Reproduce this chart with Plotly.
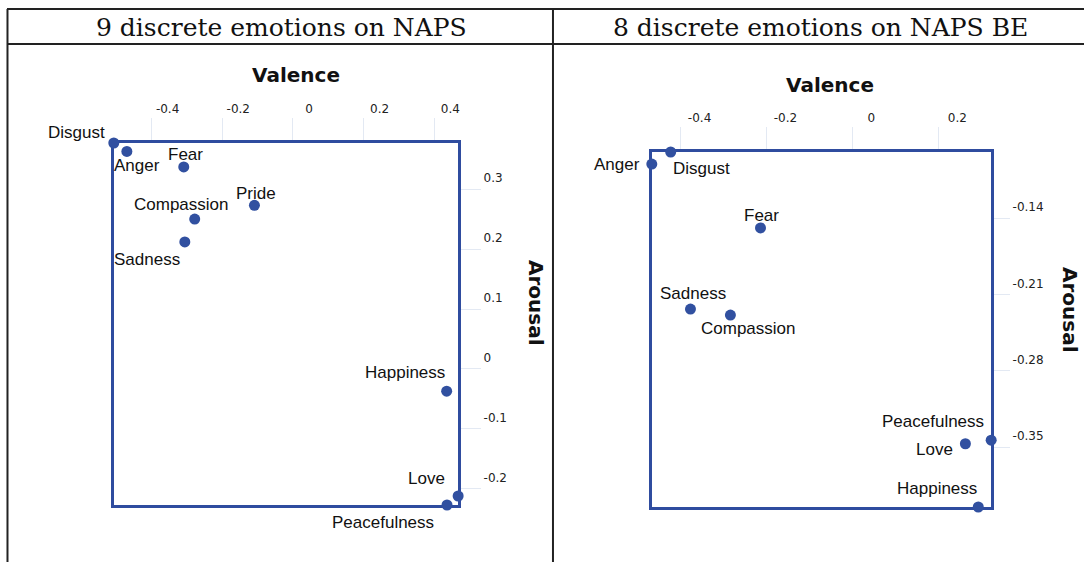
import plotly.graph_objects as go

# ---------------- data ----------------
naps_emotions = ["Disgust", "Anger", "Fear", "Pride", "Compassion", "Sadness",
                 "Happiness", "Love", "Peacefulness"]
naps_valence = [-0.507, -0.470, -0.309, -0.109, -0.278, -0.306, 0.435, 0.4675, 0.436]
naps_arousal = [0.377, 0.363, 0.337, 0.273, 0.250, 0.212, -0.037, -0.212, -0.227]

be_emotions = ["Anger", "Disgust", "Fear", "Sadness", "Compassion",
               "Peacefulness", "Love", "Happiness"]
be_valence = [-0.467, -0.423, -0.214, -0.377, -0.284, 0.323, 0.263, 0.293]
be_arousal = [-0.0905, -0.0794, -0.149, -0.2235, -0.229, -0.3437, -0.347, -0.405]

naps_xticks = [-0.4, -0.2, 0, 0.2, 0.4]
naps_yticks = [0.3, 0.2, 0.1, 0, -0.1, -0.2]
be_xticks = [-0.4, -0.2, 0, 0.2]
be_yticks = [-0.14, -0.21, -0.28, -0.35]

panel_titles = ["9 discrete emotions on NAPS", "8 discrete emotions on NAPS BE"]

# label placement styles (anchor, xshift, yshift) per point
naps_lab = [("right", -7, 11), ("center", 10, -14), ("center", 2, 12), ("center", 2, 12),
            ("center", -13, 15), ("right", -3, -18), ("right", 0, 19), ("right", -11, 18),
            ("right", -11, -17)]
be_lab = [("right", -10, 0), ("left", 0, -16), ("center", 1, 12), ("center", 3, 16),
          ("center", 18, -13), ("right", -5, 19), ("right", -10, -6), ("right", 1, 19)]

W, H = 1086, 562
BLUE = "#2f4c9f"
MARK = "#3150a0"


def px(x):
    return x / W


def py(y):
    return 1 - y / H


def fmt(v, nd):
    if v == 0:
        return "0"
    return f"{v:.{nd}f}"


fig = go.Figure()

fig.add_trace(go.Scatter(x=naps_valence, y=naps_arousal, mode="markers",
                         marker=dict(size=11, color=MARK), cliponaxis=False,
                         xaxis="x", yaxis="y", hoverinfo="text", text=naps_emotions))
fig.add_trace(go.Scatter(x=be_valence, y=be_arousal, mode="markers",
                         marker=dict(size=11, color=MARK), cliponaxis=False,
                         xaxis="x2", yaxis="y2", hoverinfo="text", text=be_emotions))

tickfont = dict(family="DejaVu Sans", size=12, color="#222")
common = dict(showgrid=False, zeroline=False, showline=True, mirror=True,
              linecolor=BLUE, linewidth=3, layer="below traces",
              ticks="outside", tickcolor="#e3e9f3", tickwidth=1,
              tickfont=tickfont, fixedrange=True)

fig.update_layout(
    width=W, height=H, autosize=False,
    margin=dict(l=0, r=0, t=0, b=0),
    paper_bgcolor="white", plot_bgcolor="white",
    showlegend=False,
    xaxis=dict(domain=[px(114), px(459)], range=[min(naps_valence), max(naps_valence)],
               side="top", anchor="y", tickvals=naps_xticks,
               ticktext=[fmt(v, 1) for v in naps_xticks], ticklen=22,
               ticklabelshift=16, **common),
    yaxis=dict(domain=[py(505), py(143)], range=[min(naps_arousal), max(naps_arousal)],
               side="right", anchor="x", tickvals=naps_yticks,
               ticktext=[fmt(v, 1) for v in naps_yticks], ticklen=20,
               ticklabelshift=-11, **common),
    xaxis2=dict(domain=[px(653), px(993)], range=[min(be_valence), max(be_valence)],
                side="top", anchor="y2", tickvals=be_xticks,
                ticktext=[fmt(v, 1) for v in be_xticks], ticklen=22,
                ticklabelshift=19, **common),
    yaxis2=dict(domain=[py(507), py(152)], range=[min(be_arousal), max(be_arousal)],
                side="right", anchor="x2", tickvals=be_yticks,
                ticktext=[fmt(v, 2) for v in be_yticks], ticklen=16,
                ticklabelshift=-11, **common),
)

ann = []
labfont = dict(family="Liberation Sans", size=17, color="#111")
for names, xs, ys, labs, xr, yr in [
        (naps_emotions, naps_valence, naps_arousal, naps_lab, "x", "y"),
        (be_emotions, be_valence, be_arousal, be_lab, "x2", "y2")]:
    for n, xv, yv, (anc, dx, dy) in zip(names, xs, ys, labs):
        ann.append(dict(x=xv, y=yv, xref=xr, yref=yr, text=n, showarrow=False,
                        xanchor=anc, yanchor="middle", xshift=dx, yshift=dy,
                        font=labfont))

axfont = dict(family="DejaVu Sans", size=20, color="#111")
ann += [
    dict(x=px(297), y=py(75), xref="paper", yref="paper", text="<b>Valence</b>",
         showarrow=False, font=axfont, xanchor="center", yanchor="middle"),
    dict(x=px(832), y=py(85), xref="paper", yref="paper", text="<b>Valence</b>",
         showarrow=False, font=axfont, xanchor="center", yanchor="middle"),
    dict(x=px(537), y=py(303), xref="paper", yref="paper", text="<b>Arousal</b>",
         showarrow=False, font=axfont, textangle=90, xanchor="center", yanchor="middle"),
    dict(x=px(1072), y=py(310), xref="paper", yref="paper", text="<b>Arousal</b>",
         showarrow=False, font=axfont, textangle=90, xanchor="center", yanchor="middle"),
]

titlefont = dict(family="DejaVu Serif", size=25, color="#111")
ann += [
    dict(x=px(282), y=py(27), xref="paper", yref="paper", text=panel_titles[0],
         showarrow=False, font=titlefont, xanchor="center", yanchor="middle"),
    dict(x=px(822), y=py(27), xref="paper", yref="paper", text=panel_titles[1],
         showarrow=False, font=titlefont, xanchor="center", yanchor="middle"),
]
fig.update_layout(annotations=ann)

frame = dict(color="#222", width=2)
shapes = [
    dict(type="line", xref="paper", yref="paper", x0=px(7), x1=1, y0=py(9), y1=py(9), line=frame),
    dict(type="line", xref="paper", yref="paper", x0=px(7), x1=1, y0=py(44), y1=py(44), line=frame),
    dict(type="line", xref="paper", yref="paper", x0=px(7.5), x1=px(7.5), y0=py(9), y1=0, line=frame),
    dict(type="line", xref="paper", yref="paper", x0=px(554), x1=px(554), y0=py(9), y1=0, line=frame),
]
fig.update_layout(shapes=shapes)

fig.write_html("out.html", config={"displayModeBar": False},
               post_script="document.body.style.margin='0px';document.body.style.overflow='hidden';")
